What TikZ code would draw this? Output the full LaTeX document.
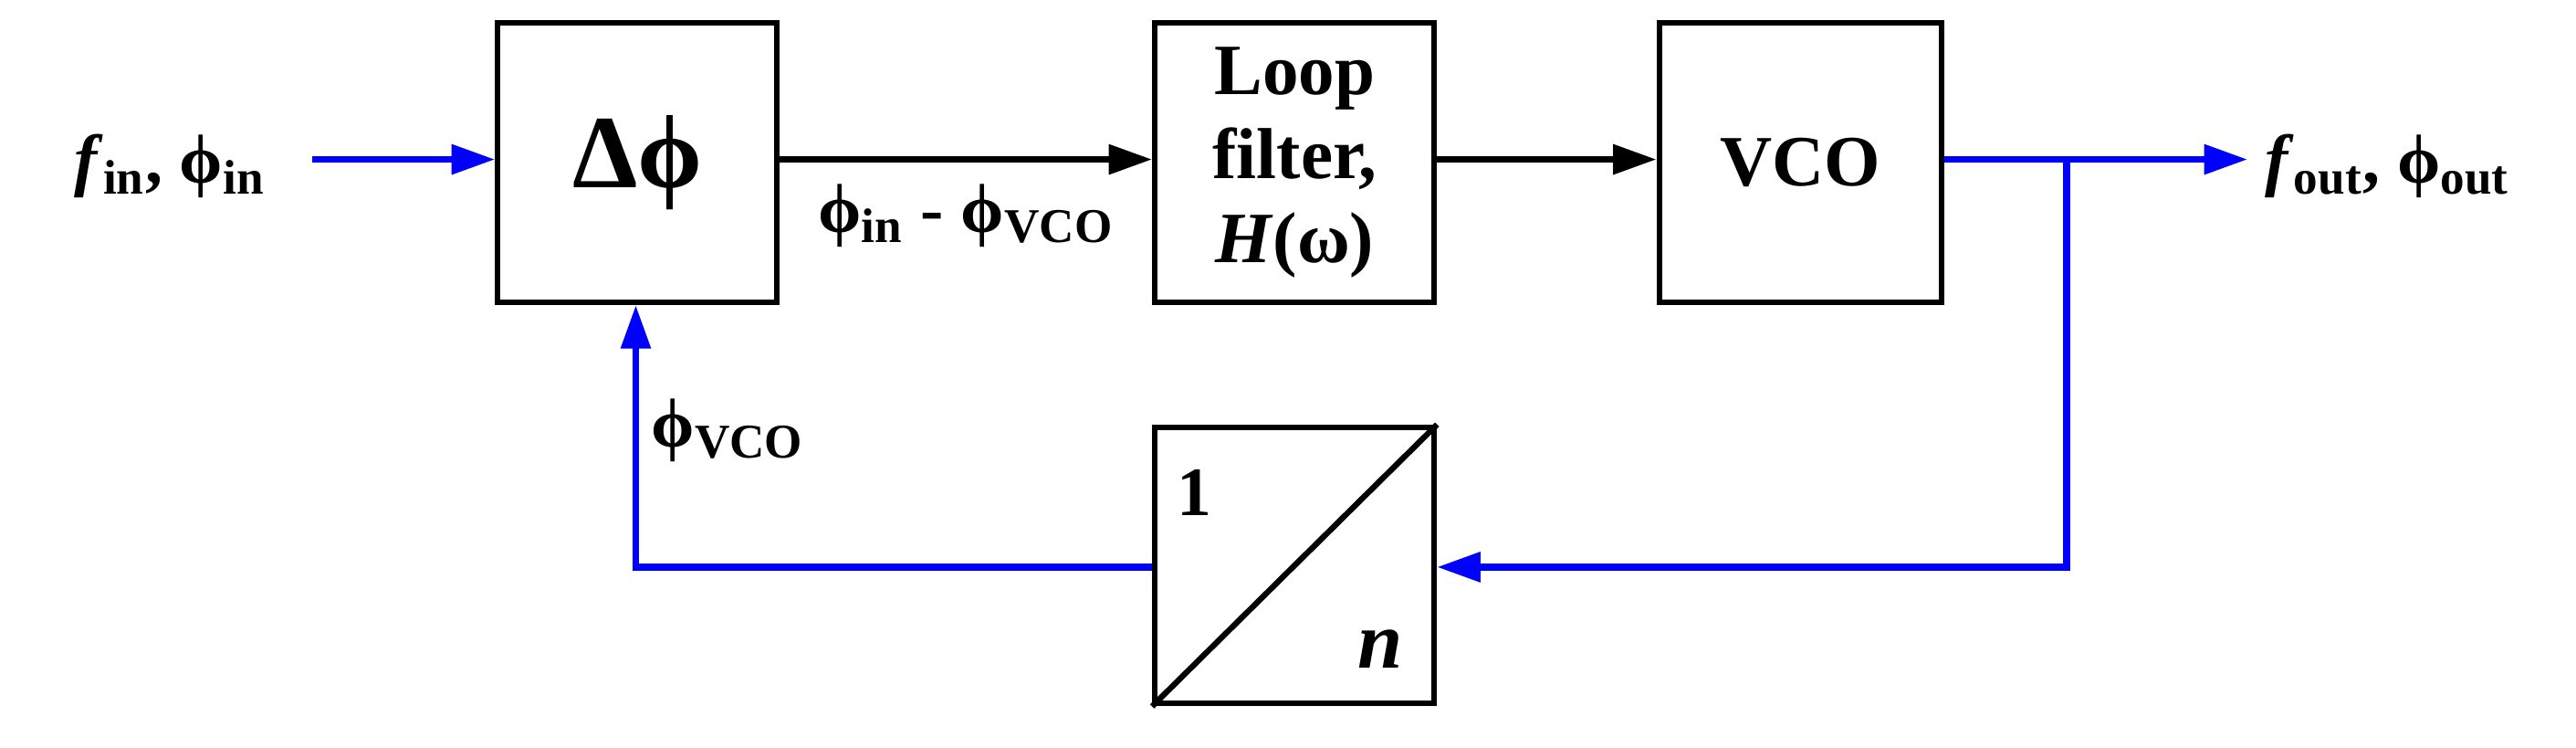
\documentclass[tikz,border=0pt]{standalone}
\usepackage{fontspec}
\setmainfont{Liberation Serif}
\usepackage{tikz}
\usetikzlibrary{arrows.meta, positioning, calc}
\tikzset{
  block/.style={rectangle, minimum width=3.4cm, minimum height=3.4cm, text centered, draw=black, line width=2pt, font=\bfseries\fontsize{25}{29}\selectfont, align=center},
  arrow/.style={line width=2.3pt, -{Triangle[length=15pt, width=10pt]}},
  sig/.style={arrow, blue},
  lbl/.style={font=\bfseries\fontsize{24}{28}\selectfont}
}
\begin{document}
\begin{tikzpicture}
        \useasboundingbox (0,0) rectangle (31.36,9.1);
        % Nodes
        \node (pd) [block] at (7.76,7.12) {\fontsize{36}{40}\selectfont Δϕ};
        \node (filter) [block] at (15.76,7.12) {Loop\\filter,\\\textit{H}(ω)};
        \node (vco) [block, minimum width=3.44cm] at (21.92,7.12) {VCO};
        \node (div) [block, minimum height=3.36cm] at (15.76,2.22) {};
        \draw [line width=2pt] (div.south west) -- (div.north east);
        \node [lbl] at (14.54,3.1) {1};
        \node [lbl, font=\bfseries\itshape\fontsize{28}{32}\selectfont] at (16.8,1.2) {n};

        \node (in) [lbl, anchor=east] at (3.35,7.08) {\textit{f}\textsubscript{in}, ϕ\textsubscript{in}};
        \node (out) [lbl, anchor=west] at (27.45,7.08) {\textit{f}\textsubscript{out}, ϕ\textsubscript{out}};
        \coordinate (branch) at (25.16,7.16);
        \coordinate (corner) at (25.16,2.2);
        \coordinate (back) at (7.74,2.2);

        % Paths
        \draw [sig] (3.8,7.16) -- (pd.west|-branch);
        \draw [arrow] (pd.east|-branch) -- node[lbl, below=4pt] {ϕ\textsubscript{in} - ϕ\textsubscript{VCO}} (filter.west|-branch);
        \draw [arrow] (filter.east|-branch) -- (vco.west|-branch);
        \draw [sig] (vco.east|-branch) -- (27.36,7.16);
        \draw [sig] (branch) -- (corner) -- (div.east|-corner);
        \draw [sig] (div.west|-corner) -- (back) -- (back|-pd.south);
        \node [lbl] at (8.86,3.86) {ϕ\textsubscript{VCO}};
\end{tikzpicture}
\end{document}
